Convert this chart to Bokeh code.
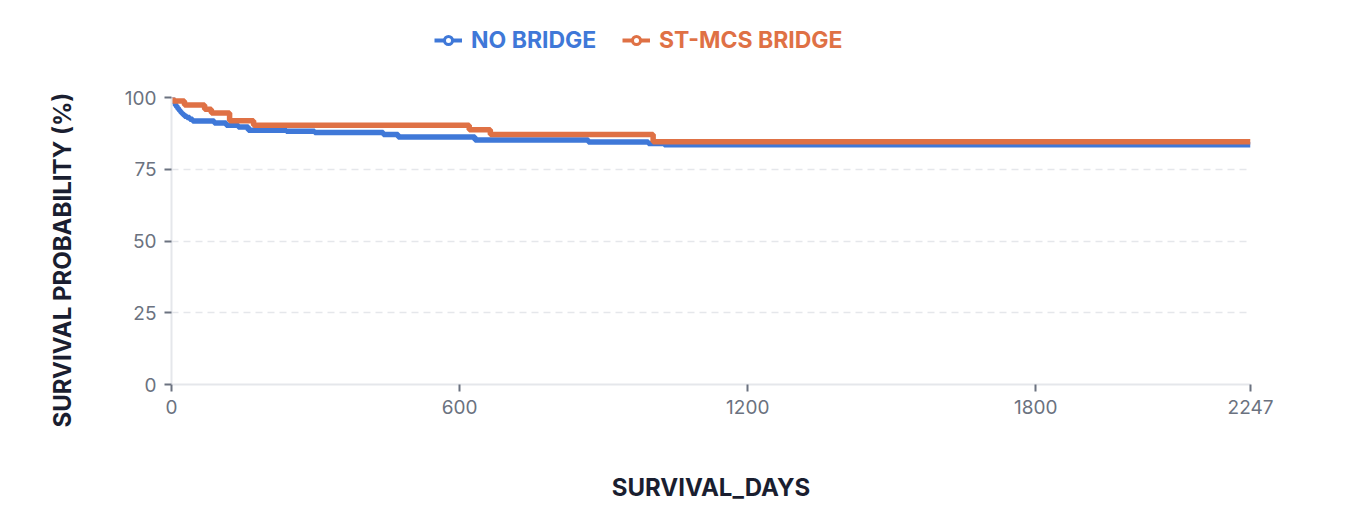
import numpy as np
from bokeh.embed import file_html
from bokeh.layouts import column
from bokeh.models import FixedTicker, Legend, LegendItem, Title
from bokeh.plotting import figure
from bokeh.resources import INLINE

MAX_DAY = 2247

# Kaplan-Meier steps (day, survival %)
no_bridge_days = [0, 2, 4, 6, 8, 11, 14, 17, 20, 23, 27, 32, 38, 44,
                  89, 114, 139, 160, 239, 298, 441, 472, 632, 868, 993, 1026]
no_bridge_surv = [100, 99.3, 98.6, 97.9, 97.2, 96.5, 95.8, 95.2, 94.6, 94.1, 93.5, 93.0, 92.4, 91.8,
                  91.1, 90.3, 89.7, 88.6, 88.2, 87.8, 87.1, 86.2, 85.2, 84.5, 84.0, 83.5]

bridge_days = [0, 3, 27, 69, 83, 121, 171, 620, 664, 1003]
bridge_surv = [100, 98.8, 97.4, 95.9, 94.6, 91.9, 90.3, 88.8, 87.1, 84.6]

series_labels = ['NO BRIDGE', 'ST-MCS BRIDGE']

x_ticks = [0, 600, 1200, 1800, 2247]
y_ticks = [0, 25, 50, 75, 100]

BLUE = '#3f78d8'
ORANGE = '#df7145'
FONT = 'Inter'
TICK_GREY = '#6b7280'
LIGHT = '#e5e7eb'
TITLE_INK = '#1a1e30'


def extend(days, surv):
    # carry the last value to the end of follow-up
    return list(days) + [MAX_DAY], list(surv) + [surv[-1]]


def legend_strip():
    # a separate strip on top so the coloured keys are not clipped by the frame
    # (column() lines its frame up with the chart frame, so x is measured from there)
    q = figure(
        width=1330,
        height=70,
        x_range=(0, 1),
        y_range=(0, 1),
        min_border=0,
        output_backend='svg',
        toolbar_location=None,
    )
    q.axis.visible = False
    q.grid.visible = False
    q.outline_line_color = None

    for label, color, x in zip(series_labels, [BLUE, ORANGE], [263, 451]):
        ln = q.line(x=np.array([np.nan]), y=np.array([np.nan]), line_color=color, line_width=4)
        dot = q.scatter(
            x=np.array([np.nan]), y=np.array([np.nan]), marker='circle', size=10,
            fill_color='white', line_color=color, line_width=3,
        )
        legend = Legend(
            items=[LegendItem(label=label, renderers=[ln, dot])],
            location=(x, 16),
            orientation='horizontal',
            padding=0,
            margin=0,
            spacing=0,
            glyph_width=28,
            glyph_height=20,
            label_standoff=9,
            label_text_font=FONT,
            label_text_font_style='bold',
            label_text_font_size='23px',
            label_text_color=color,
            border_line_color=None,
            background_fill_alpha=0,
        )
        q.add_layout(legend, 'center')
    return q


def plot():
    p = figure(
        width=1330,
        height=434,
        x_range=(0, MAX_DAY),
        y_range=(0, 100),
        min_border_left=170,
        min_border_right=80,
        min_border_top=27,
        min_border_bottom=118,
        output_backend='svg',
        toolbar_location=None,
    )
    p.outline_line_color = None

    for (days, surv), color in zip(
        [(no_bridge_days, no_bridge_surv), (bridge_days, bridge_surv)], [BLUE, ORANGE]
    ):
        xs, ys = extend(days, surv)
        p.step(xs, ys, mode='after', line_color=color, line_width=5.5)

    p.xgrid.visible = False
    p.ygrid.ticker = FixedTicker(ticks=y_ticks[1:])
    p.ygrid.grid_line_color = LIGHT
    p.ygrid.grid_line_width = 1.5
    p.ygrid.grid_line_dash = '7 5'

    p.xaxis.ticker = FixedTicker(ticks=x_ticks)
    p.yaxis.ticker = FixedTicker(ticks=y_ticks)

    for ax in (p.xaxis[0], p.yaxis[0]):
        ax.axis_line_color = LIGHT
        ax.axis_line_width = 2
        ax.major_tick_line_color = TICK_GREY
        ax.major_tick_line_width = 2
        ax.major_tick_in = 0
        ax.major_tick_out = 7
        ax.minor_tick_line_color = None
        ax.major_label_text_font = FONT
        ax.major_label_text_font_size = '19px'
        ax.major_label_text_color = TICK_GREY
        ax.major_label_standoff = 8
        ax.axis_label_text_font = FONT
        ax.axis_label_text_font_style = 'bold'
        ax.axis_label_text_font_size = '24px'
        ax.axis_label_text_color = TITLE_INK

    p.xaxis.axis_label = 'SURVIVAL_DAYS'
    p.xaxis.axis_label_standoff = 56

    # y title as a side title: starts below the frame bottom, as in the original
    p.add_layout(Title(
        text='SURVIVAL PROBABILITY (%)',
        align='left',
        offset=-43,
        standoff=90,
        text_font=FONT,
        text_font_style='bold',
        text_font_size='24px',
        text_color=TITLE_INK,
    ), 'left')

    return p


def main():
    p = column(legend_strip(), plot(), spacing=0)
    open('out.html', 'w').write(file_html(p, INLINE))


if __name__ == '__main__':
    main()
